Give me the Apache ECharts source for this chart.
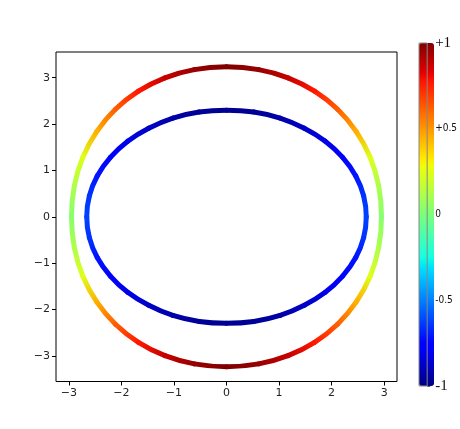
<!DOCTYPE html>
<html>
<head>
<meta charset="utf-8">
<script src="https://cdn.jsdelivr.net/npm/echarts@6/dist/echarts.min.js"></script>
<style>html,body{margin:0;padding:0;background:#fff}#c{width:460px;height:429px}</style>
</head>
<body>
<div id="c"></div>
<script>
// Outer closed curve (counter-clockwise from the right side)
var outerX = [2.95, 2.895, 2.734, 2.47, 2.114, 1.676, 1.171, 0.613, 0, -0.613, -1.171, -1.676, -2.114, -2.47, -2.734, -2.895, -2.95,
              -2.895, -2.734, -2.47, -2.114, -1.676, -1.171, -0.613, 0, 0.613, 1.171, 1.676, 2.114, 2.47, 2.734, 2.895, 2.95];
var outerY = [0, 0.672, 1.285, 1.838, 2.318, 2.709, 2.998, 3.175, 3.235, 3.175, 2.998, 2.709, 2.318, 1.838, 1.285, 0.672, 0,
              -0.672, -1.285, -1.838, -2.318, -2.709, -2.998, -3.175, -3.235, -3.175, -2.998, -2.709, -2.318, -1.838, -1.285, -0.672, 0];
var outerV = [0.03, 0.12, 0.24, 0.45, 0.62, 0.77, 0.88, 0.96, 1.0, 0.96, 0.88, 0.77, 0.62, 0.45, 0.24, 0.12, 0.03,
              0.12, 0.24, 0.45, 0.62, 0.77, 0.88, 0.96, 1.0, 0.96, 0.88, 0.77, 0.62, 0.45, 0.24, 0.12, 0.03];
// Inner closed curve
var innerX = [2.66, 2.61, 2.46, 2.21, 1.88, 1.48, 1.02, 0.52, 0, -0.52, -1.02, -1.48, -1.88, -2.21, -2.46, -2.61, -2.66,
              -2.61, -2.46, -2.21, -1.88, -1.48, -1.02, -0.52, 0, 0.52, 1.02, 1.48, 1.88, 2.21, 2.46, 2.61, 2.66];
var innerY = [0, 0.45, 0.88, 1.28, 1.63, 1.91, 2.13, 2.26, 2.30, 2.26, 2.13, 1.91, 1.63, 1.28, 0.88, 0.45, 0,
              -0.45, -0.88, -1.28, -1.63, -1.91, -2.13, -2.26, -2.30, -2.26, -2.13, -1.91, -1.63, -1.28, -0.88, -0.45, 0];
var innerV = [-0.62, -0.65, -0.71, -0.77, -0.82, -0.88, -0.93, -0.96, -0.97, -0.96, -0.93, -0.88, -0.82, -0.77, -0.71, -0.65, -0.62,
              -0.65, -0.71, -0.77, -0.82, -0.88, -0.93, -0.96, -0.97, -0.96, -0.93, -0.88, -0.82, -0.77, -0.71, -0.65, -0.62];

var xTickValues = [-3, -2, -1, 0, 1, 2, 3];
var xTickLabels = ['\u22123', '\u22122', '\u22121', '0', '1', '2', '3'];
var yTickValues = [-3, -2, -1, 0, 1, 2, 3];
var yTickLabels = ['\u22123', '\u22122', '\u22121', '0', '1', '2', '3'];
var cbarValues = [-1, -0.5, 0, 0.5, 1];
var cbarLabels = ['-1', '-0.5', '0', '+0.5', '+1'];
var cbarBig = [true, false, false, false, true];

function interp(stops, t) {
  for (var i = 1; i < stops.length; i++) {
    if (t <= stops[i][0]) {
      var a = stops[i - 1], b = stops[i];
      var f = (t - a[0]) / (b[0] - a[0]);
      return a[1] + f * (b[1] - a[1]);
    }
  }
  return stops[stops.length - 1][1];
}
var jr = [[0, 0], [0.35, 0], [0.66, 1], [0.89, 1], [1, 0.5]];
var jg = [[0, 0], [0.125, 0], [0.375, 1], [0.64, 1], [0.91, 0], [1, 0]];
var jb = [[0, 0.5], [0.11, 1], [0.34, 1], [0.65, 0], [1, 0]];
function jetT(t) {
  t = Math.max(0, Math.min(1, t));
  return 'rgb(' + Math.round(255 * interp(jr, t)) + ',' + Math.round(255 * interp(jg, t)) + ',' + Math.round(255 * interp(jb, t)) + ')';
}
function jet(v) { return jetT((v + 1) / 2); }
var jetList = [];
for (var k = 0; k <= 64; k++) jetList.push(jetT(k / 64));

// Closed loop: last point repeats the first. Each item holds a segment plus its neighbours.
function segs(xs, ys, vs) {
  var n = xs.length - 1, out = [];
  for (var i = 0; i < n; i++) {
    var p = (i - 1 + n) % n, q = (i + 2) % n;
    out.push([xs[i], ys[i], vs[i], xs[i + 1], ys[i + 1], vs[i + 1], xs[p], ys[p], xs[q], ys[q]]);
  }
  return out;
}
function dist(a, b) { return Math.sqrt((a[0] - b[0]) * (a[0] - b[0]) + (a[1] - b[1]) * (a[1] - b[1])); }
function renderSeg(params, api) {
  var p1 = api.coord([api.value(0), api.value(1)]);
  var p2 = api.coord([api.value(3), api.value(4)]);
  var p0 = api.coord([api.value(6), api.value(7)]);
  var p3 = api.coord([api.value(8), api.value(9)]);
  var c1 = jet(api.value(2)), c2 = jet(api.value(5));
  var d12 = dist(p1, p2), d01 = dist(p0, p1), d23 = dist(p2, p3);
  var s1 = d12 / (d01 + d12) / 3, s2 = d12 / (d12 + d23) / 3;
  return {
    type: 'bezierCurve',
    shape: {
      x1: p1[0], y1: p1[1], x2: p2[0], y2: p2[1],
      cpx1: p1[0] + (p2[0] - p0[0]) * s1, cpy1: p1[1] + (p2[1] - p0[1]) * s1,
      cpx2: p2[0] - (p3[0] - p1[0]) * s2, cpy2: p2[1] - (p3[1] - p1[1]) * s2
    },
    style: {
      stroke: new echarts.graphic.LinearGradient(p1[0], p1[1], p2[0], p2[1],
        [{ offset: 0, color: c1 }, { offset: 1, color: c2 }], true),
      lineWidth: 5, lineCap: 'round', fill: null
    }
  };
}

var chart = echarts.init(document.getElementById('c'), null, { renderer: 'canvas' });
var font = 'DejaVu Sans';
var narrow = "'Liberation Sans Narrow', 'DejaVu Sans Condensed', 'Roboto Condensed', sans-serif";
chart.setOption({
  animation: false,
  backgroundColor: '#fff',
  grid: [
    { left: 56, top: 52, right: 63, bottom: 47.5, show: true, borderColor: '#000', borderWidth: 1, backgroundColor: 'transparent' },
    { left: 419, top: 43, width: 15, height: 343, show: true, borderColor: '#888', borderWidth: 1, backgroundColor: 'transparent', z: 10 }
  ],
  xAxis: [
    { type: 'value', gridIndex: 0, min: -3.245, max: 3.245,
      axisLine: { show: false, onZero: false }, splitLine: { show: false },
      axisTick: { show: true, length: 4, lineStyle: { color: '#000' }, customValues: xTickValues },
      axisLabel: { customValues: xTickValues, margin: 6, color: '#222', fontFamily: font, fontSize: 11,
        formatter: function (v) { return xTickLabels[xTickValues.indexOf(Math.round(v))]; } } },
    { type: 'value', gridIndex: 1, min: 0, max: 1, show: false }
  ],
  yAxis: [
    { type: 'value', gridIndex: 0, min: -3.555, max: 3.555,
      axisLine: { show: false, onZero: false }, splitLine: { show: false },
      axisTick: { show: true, length: 4, lineStyle: { color: '#000' }, customValues: yTickValues },
      axisLabel: { customValues: yTickValues, margin: 6, color: '#222', fontFamily: font, fontSize: 11,
        formatter: function (v) { return yTickLabels[yTickValues.indexOf(Math.round(v))]; } } },
    { type: 'value', gridIndex: 1, min: -1, max: 1, interval: 0.5, position: 'right',
      axisLine: { show: false, onZero: false }, splitLine: { show: false },
      axisTick: { show: true, length: 3, lineStyle: { color: '#666' } },
      axisLabel: { margin: 8, color: '#111',
        formatter: function (v) {
          var i = cbarValues.indexOf(v);
          return (cbarBig[i] ? '{big|' : '{small|') + cbarLabels[i] + '}';
        },
        rich: {
          big: { fontFamily: 'Liberation Serif', fontSize: 15, color: '#111' },
          small: { fontFamily: narrow, fontSize: 10, color: '#111' }
        } } }
  ],
  visualMap: {
    type: 'continuous', min: -1, max: 1, dimension: 2, seriesIndex: [0, 1],
    left: 419, top: 43, itemWidth: 15, itemHeight: 343, padding: 0,
    calculable: false, hoverLink: false, inRange: { color: jetList }
  },
  series: [
    { type: 'custom', xAxisIndex: 0, yAxisIndex: 0, renderItem: renderSeg,
      encode: { x: [0, 3], y: [1, 4] }, data: segs(outerX, outerY, outerV) },
    { type: 'custom', xAxisIndex: 0, yAxisIndex: 0, renderItem: renderSeg,
      encode: { x: [0, 3], y: [1, 4] }, data: segs(innerX, innerY, innerV) }
  ]
});
</script>
</body>
</html>
